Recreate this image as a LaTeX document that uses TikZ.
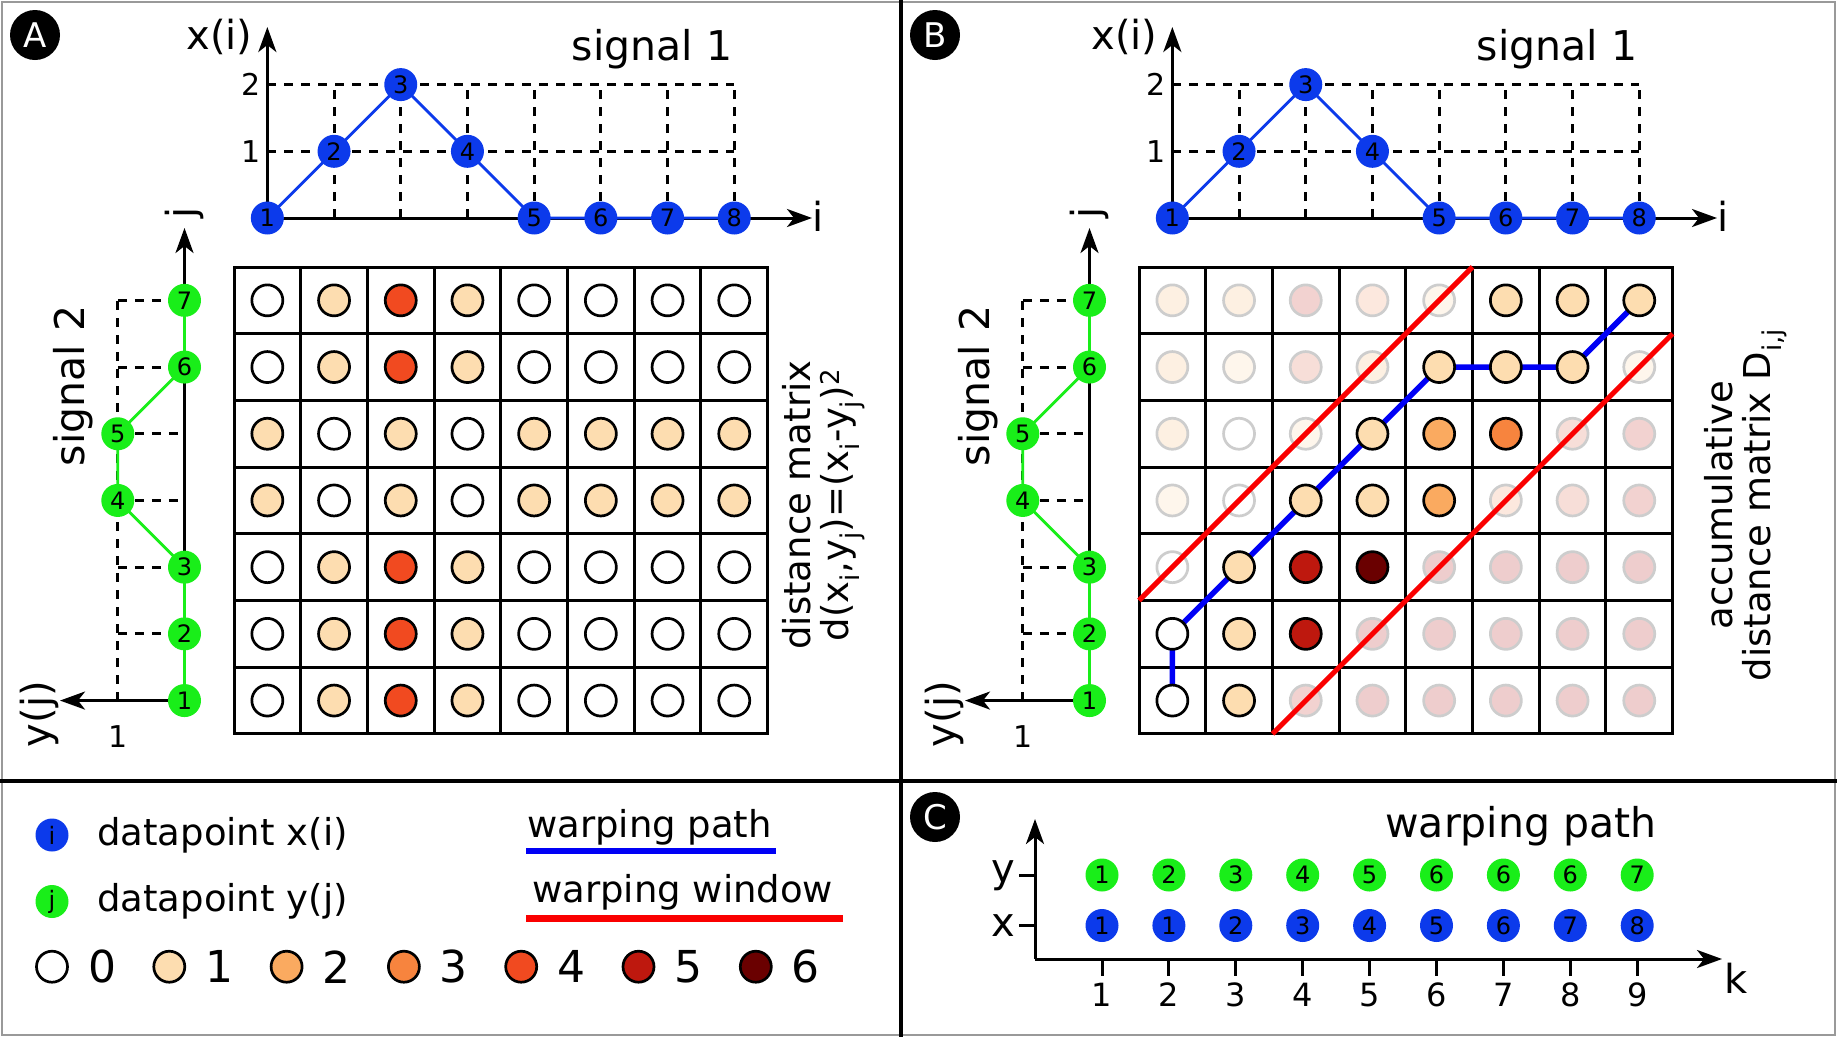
\documentclass[tikz,border=0pt]{standalone}
\usepackage{fontspec}
\setmainfont{DejaVu Sans}
\usetikzlibrary{arrows.meta}
\definecolor{nblue}{RGB}{12,58,235}
\definecolor{ngreen}{RGB}{25,238,25}
\definecolor{v0}{RGB}{255,255,255}
\definecolor{v1}{RGB}{253,221,176}
\definecolor{v2}{RGB}{250,170,96}
\definecolor{v3}{RGB}{247,132,62}
\definecolor{v4}{RGB}{241,74,32}
\definecolor{v5}{RGB}{190,24,14}
\definecolor{v6}{RGB}{106,0,0}
\definecolor{f0}{RGB}{255,255,255}
\definecolor{f1}{RGB}{254,246,236}
\definecolor{f2}{RGB}{253,240,226}
\definecolor{f3}{RGB}{252,232,222}
\definecolor{f4}{RGB}{247,222,216}
\definecolor{f5}{RGB}{242,210,208}
\definecolor{f6}{RGB}{238,205,205}
\definecolor{fline}{RGB}{205,205,205}
\definecolor{wblue}{RGB}{0,0,245}
\definecolor{wred}{RGB}{250,0,0}
\newcommand\fs[1]{\fontsize{#1}{#1}\selectfont}
\def\cc{66.7}
\tikzset{
  ax/.style={line width=3pt, -{Stealth[length=25pt,width=18pt,inset=7pt]}},
  dsh/.style={line width=3pt, dash pattern=on 9pt off 8pt},
  gridl/.style={line width=3pt, line cap=rect},
  bnode/.style={circle, fill=nblue, minimum size=33pt, inner sep=0pt, font=\fs{24}},
  gnode/.style={circle, fill=ngreen, minimum size=33pt, inner sep=0pt, font=\fs{24}},
  bline/.style={line width=2.8pt, nblue},
  gline/.style={line width=2.8pt, ngreen},
  mc/.style={circle, draw=black, line width=2.7pt, minimum size=31pt, inner sep=0pt, fill=#1},
  fc/.style={circle, draw=fline, line width=2.7pt, minimum size=31pt, inner sep=0pt, fill=#1},
  ttl/.style={font=\fs{41}, inner sep=0pt},
  lab/.style={font=\fs{40}, inner sep=0pt},
  tck/.style={font=\fs{30}, inner sep=0pt},
  rlab/.style={font=\fs{37}, inner sep=0pt, rotate=90},
  leg/.style={font=\fs{37}, inner sep=0pt, anchor=west},
  badge/.style={circle, fill=black, minimum size=50pt, inner sep=0pt, text=white, font=\fs{34}},
  wpath/.style={line width=5.5pt, wblue},
  wwin/.style={line width=5pt, wred},
}
\newcommand\sigplots[2]{%
  % ---- signal 1 ----
  \coordinate (#1O) at ({267.35+#2},218);
  \coordinate (#1Ytip) at ({267.35+#2},27);
  \coordinate (#1Xtip) at ({812+#2},218);
  \foreach \i in {2,...,8}{\draw[dsh] ({267.35+#2+(\i-1)*\cc},218) -- ({267.35+#2+(\i-1)*\cc},{218-2*\cc});}
  \foreach \l in {1,2}{\draw[dsh] ({267.35+#2},{218-\l*\cc}) -- ({267.35+#2+7*\cc},{218-\l*\cc});}
  \draw[ax] (#1O) -- (#1Ytip);
  \draw[ax] (#1O) -- (#1Xtip);
  \foreach \v [count=\i] in {0,1,2,1,0,0,0,0}{\coordinate (#1p\i) at ({267.35+#2+(\i-1)*\cc},{218-\v*\cc});}
  \draw[bline] (#1p1) -- (#1p2) -- (#1p3) -- (#1p4) -- (#1p5) -- (#1p6) -- (#1p7) -- (#1p8);
  \foreach \i in {1,...,8}{\node[bnode] (#1x\i) at (#1p\i) {\i};}
  \node[lab] (#1xl) at ({219.5+#2},37) {x(i)};
  \node[tck] (#1t1) at ({251.5+#2},{218-\cc}) {1};
  \node[tck] (#1t2) at ({251.5+#2},{218-2*\cc}) {2};
  \node[lab] (#1il) at ({818+#2},216) {i};
  \node[ttl] (#1s1) at ({652+#2},49) {signal 1};
  % ---- signal 2 ----
  \coordinate (#1J) at ({184.5+#2},{267+6.5*\cc});
  \coordinate (#1Jtip) at ({184.5+#2},228);
  \coordinate (#1Ytip2) at ({60+#2},{267+6.5*\cc});
  \draw[dsh] ({117.8+#2},{267+6.5*\cc}) -- ({117.8+#2},{267+0.5*\cc});
  \foreach \j in {2,...,7}{\draw[dsh] ({117.8+#2},{267+(7.5-\j)*\cc}) -- ({184.5+#2},{267+(7.5-\j)*\cc});}
  \draw[ax] (#1J) -- (#1Jtip);
  \draw[ax] (#1J) -- (#1Ytip2);
  \foreach \v [count=\j] in {0,0,0,1,1,0,0}{\coordinate (#1q\j) at ({184.5+#2-\v*\cc},{267+(7.5-\j)*\cc});}
  \draw[gline] (#1q1) -- (#1q2) -- (#1q3) -- (#1q4) -- (#1q5) -- (#1q6) -- (#1q7);
  \foreach \j in {1,...,7}{\node[gnode] (#1y\j) at (#1q\j) {\j};}
  \node[lab, rotate=90] (#1jl) at ({184.5+#2},213) {j};
  \node[ttl, rotate=90] (#1s2) at ({73+#2},386) {signal 2};
  \node[lab, rotate=90] (#1yl) at ({39+#2},714) {y(j)};
  \node[tck] (#1one) at ({117.8+#2},737) {1};
  % ---- grid ----
  \foreach \k in {0,...,8}{\draw[gridl] ({234+#2+\k*\cc},267) -- ({234+#2+\k*\cc},{267+7*\cc});}
  \foreach \k in {0,...,7}{\draw[gridl] ({234+#2},{267+\k*\cc}) -- ({234+#2+8*\cc},{267+\k*\cc});}
}
\begin{document}
\begin{tikzpicture}[x=1pt,y=-1pt]
\useasboundingbox (0,0) rectangle (1837,1037);
\fill[white] (0,0) rectangle (1837,1037);
\draw[gray!80, line width=1.5pt] (2,2) rectangle (1835,1035);
\draw[line width=3.5pt] (901,0) -- (901,1037);
\draw[line width=3.5pt] (0,781) -- (1837,781);

\node[badge] (bA) at (35,35) {A};
\node[badge] (bB) at (935,35) {B};
\node[badge] (bC) at (935,817) {C};

\sigplots{A}{0}
\sigplots{B}{905}

% ---- distance matrix A ----
\foreach \xv [count=\i] in {0,1,2,1,0,0,0,0}{
  \foreach \yv [count=\j] in {0,0,0,1,1,0,0}{
    \pgfmathtruncatemacro\dd{(\xv-\yv)*(\xv-\yv)}
    \node[mc=v\dd] (Am\i-\j) at ({267.35+(\i-1)*\cc},{267+(7.5-\j)*\cc}) {};
  }
}
\node[rlab] (Adm) at (797,505) {distance matrix};
\node[rlab] (Adf) at (843,505) {d(x\textsubscript{i},y\textsubscript{j})=(x\textsubscript{i}-y\textsubscript{j})\textsuperscript{2}};

% ---- accumulative matrix B ----
\foreach \i in {1,...,8}{\foreach \j in {1,...,7}{
  \coordinate (Bc\i-\j) at ({267.35+905+(\i-1)*\cc},{267+(7.5-\j)*\cc});}}
\foreach \i/\j/\v in {1/7/2,2/7/2,3/7/5,4/7/3,5/7/1,
  1/6/2,2/6/1,3/6/4,4/6/2,8/6/1,
  1/5/2,2/5/0,3/5/1,7/5/4,8/5/5,
  1/4/1,2/4/0,6/4/3,7/4/4,8/4/5,
  1/3/0,5/3/6,6/3/6,7/3/6,8/3/6,
  4/2/6,5/2/6,6/2/6,7/2/6,8/2/6,
  3/1/5,4/1/6,5/1/6,6/1/6,7/1/6,8/1/6}{
  \node[fc=f\v] (Bm\i-\j) at (Bc\i-\j) {};
}
\coordinate (Bw1) at (1139,{267+5*\cc});
\coordinate (Bw2) at ({1139+5*\cc},267);
\coordinate (Bw3) at ({1139+2*\cc},{267+7*\cc});
\coordinate (Bw4) at ({1139+8*\cc},{267+\cc});
\draw[wwin] (Bw1) -- (Bw2);
\draw[wwin] (Bw3) -- (Bw4);
\draw[wpath] (Bc1-1) -- (Bc1-2) -- (Bc2-3) -- (Bc3-4) -- (Bc4-5) -- (Bc5-6) -- (Bc6-6) -- (Bc7-6) -- (Bc8-7);
\foreach \i/\j/\v in {6/7/1,7/7/1,8/7/1,5/6/1,6/6/1,7/6/1,4/5/1,5/5/2,6/5/3,
  3/4/1,4/4/1,5/4/2,2/3/1,3/3/5,4/3/6,1/2/0,2/2/1,3/2/5,1/1/0,2/1/1}{
  \node[mc=v\v] (Bm\i-\j) at (Bc\i-\j) {};
}
\node[rlab] (Bacc) at (1719,505) {accumulative};
\node[rlab] (Bdm) at (1765,505) {distance matrix D\textsubscript{i,j}};

% ---- legend ----
\node[bnode] (li) at (52,835) {i};
\node[leg] (lit) at (97,835) {datapoint x(i)};
\node[gnode] (lj) at (52,901.5) {j};
\node[leg] (ljt) at (97,901.5) {datapoint y(j)};
\foreach \k in {0,...,6}{
  \node[mc=v\k] (lc\k) at ({52+117.3*\k},966.7) {};
  \node[font=\fs{44}, inner sep=0pt] (ln\k) at ({102+117.3*\k},966.7) {\k};
}
\node[leg] (lwp) at (527,827) {warping path};
\coordinate (u1) at (526,851);
\coordinate (u2) at (776,851);
\draw[line width=6pt, wblue] (u1) -- (u2);
\node[leg] (lww) at (532,892) {warping window};
\coordinate (u3) at (526,918.5);
\coordinate (u4) at (843,918.5);
\draw[line width=6.5pt, wred] (u3) -- (u4);

% ---- panel C ----
\coordinate (CO) at (1035,959);
\coordinate (CYt) at (1035,819);
\coordinate (CXt) at (1722,959);
\draw[ax] (CO) -- (CYt);
\draw[ax] (CO) -- (CXt);
\coordinate (Cty) at (1019,875);
\coordinate (Cty2) at (1035,875);
\coordinate (Ctx) at (1019,925.5);
\coordinate (Ctx2) at (1035,925.5);
\draw[line width=3pt] (Cty) -- (Cty2);
\draw[line width=3pt] (Ctx) -- (Ctx2);
\node[lab] (Cyl) at (1003,876) {y};
\node[lab] (Cxl) at (1003,925.5) {x};
\foreach \a/\b [count=\k] in {1/1,2/1,3/2,4/3,5/4,6/5,6/6,6/7,7/8}{
  \node[gnode] (Cg\k) at ({1102+(\k-1)*66.9},875) {\a};
  \node[bnode] (Cb\k) at ({1102+(\k-1)*66.9},925.5) {\b};
  \coordinate (Ck\k) at ({1102+(\k-1)*66.9},960);
  \coordinate (Ck\k b) at ({1102+(\k-1)*66.9},976);
  \draw[line width=3pt] (Ck\k) -- (Ck\k b);
  \node[font=\fs{32}, inner sep=0pt] (Cn\k) at ({1102+(\k-1)*66.9},995) {\k};
}
\node[lab] (Ckl) at (1736,978) {k};
\node[ttl] (Cttl) at (1521,826) {warping path};
\end{tikzpicture}
\end{document}
